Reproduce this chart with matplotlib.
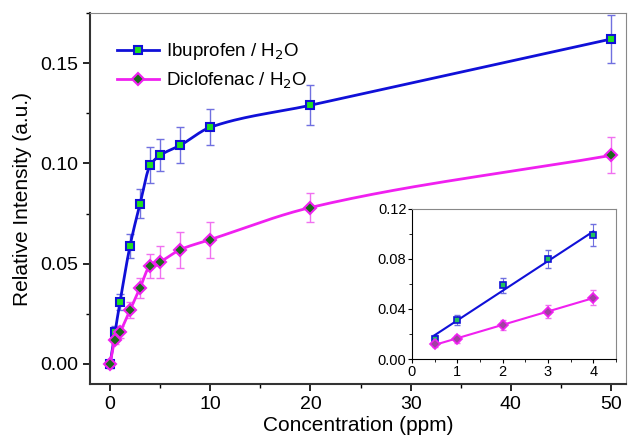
import numpy as np
import matplotlib
matplotlib.use("Agg")
import matplotlib.pyplot as plt
from matplotlib.ticker import MultipleLocator

plt.rcParams['font.family'] = ['Liberation Sans', 'DejaVu Sans']

conc = [0, 0.5, 1, 2, 3, 4, 5, 7, 10, 20, 50]
ibu = [0.0, 0.016, 0.031, 0.059, 0.080, 0.099, 0.104, 0.109, 0.118, 0.129, 0.162]
ibu_err = [0.002, 0.003, 0.004, 0.006, 0.007, 0.009, 0.008, 0.009, 0.009, 0.010, 0.012]
dic = [0.0, 0.012, 0.016, 0.027, 0.038, 0.049, 0.051, 0.057, 0.062, 0.078, 0.104]
dic_err = [0.002, 0.002, 0.003, 0.004, 0.005, 0.006, 0.008, 0.009, 0.009, 0.007, 0.009]

inset_x = conc[1:6]
inset_ibu = ibu[1:6]
inset_ibu_err = ibu_err[1:6]
inset_dic = dic[1:6]
inset_dic_err = dic_err[1:6]

BLUE = '#1010d8'
MAG = '#f020f0'
ERR_B = '#7070e0'
ERR_M = '#f070f0'


def pchip_line(x, y, n=30):
    """Monotone cubic (Fritsch-Carlson) curve through the points, for drawing."""
    x = np.asarray(x, float)
    y = np.asarray(y, float)
    h = np.diff(x)
    d = np.diff(y) / h
    m = np.zeros_like(x)
    m[0], m[-1] = d[0], d[-1]
    for k in range(1, len(x) - 1):
        if d[k - 1] * d[k] <= 0:
            m[k] = 0
        else:
            w1 = 2 * h[k] + h[k - 1]
            w2 = h[k] + 2 * h[k - 1]
            m[k] = (w1 + w2) / (w1 / d[k - 1] + w2 / d[k])
    xs, ys = [], []
    for k in range(len(x) - 1):
        t = np.linspace(0, 1, n)
        h00 = 2 * t**3 - 3 * t**2 + 1
        h10 = t**3 - 2 * t**2 + t
        h01 = -2 * t**3 + 3 * t**2
        h11 = t**3 - t**2
        xs.append(x[k] + t * h[k])
        ys.append(h00 * y[k] + h10 * h[k] * m[k] + h01 * y[k + 1] + h11 * h[k] * m[k + 1])
    return np.concatenate(xs), np.concatenate(ys)


fig = plt.figure(figsize=(6.32, 4.36), dpi=100)
ax = fig.add_axes([90/632, 1-384/436, (626-90)/632, (384-13)/436])

ax.errorbar(conc, ibu, yerr=ibu_err, fmt='none', ecolor=ERR_B, elinewidth=1, capsize=3, zorder=2)
ax.errorbar(conc, dic, yerr=dic_err, fmt='none', ecolor=ERR_M, elinewidth=1, capsize=3, zorder=2)
xs, ys = pchip_line(conc, ibu)
ax.plot(xs, ys, '-', color=BLUE, lw=2, zorder=3)
xs, ys = pchip_line(conc, dic)
ax.plot(xs, ys, '-', color=MAG, lw=2, zorder=3)
ax.plot(conc, ibu, 'none', marker='s', ms=6, mfc='#20e020', mec=BLUE, mew=1.5, zorder=4)
ax.plot(conc, dic, 'none', marker='D', ms=6, mfc='#1a6a1a', mec=MAG, mew=1.5, zorder=4)
ax.plot([], [], '-', color=BLUE, lw=2, marker='s', ms=6, mfc='#20e020', mec=BLUE, mew=1.5,
        label='Ibuprofen / H$_2$O')
ax.plot([], [], '-', color=MAG, lw=2, marker='D', ms=6, mfc='#1a6a1a', mec=MAG, mew=1.5,
        label='Diclofenac / H$_2$O')

ax.set_xlim(-2, 51.5)
ax.set_ylim(-0.01, 0.175)
ax.xaxis.set_major_locator(MultipleLocator(10))
ax.xaxis.set_minor_locator(MultipleLocator(5))
ax.yaxis.set_major_locator(MultipleLocator(0.05))
ax.yaxis.set_minor_locator(MultipleLocator(0.025))
ax.yaxis.set_major_formatter(matplotlib.ticker.FormatStrFormatter('%.2f'))
ax.tick_params(which='both', direction='out', top=False, right=False, labelsize=14)
ax.tick_params(which='major', length=5, width=1.2)
ax.tick_params(which='minor', length=3, width=1)
for s in ['top', 'right']:
    ax.spines[s].set_color('#888888')
for s in ['left', 'bottom']:
    ax.spines[s].set_linewidth(1.5)
    ax.spines[s].set_color('#333333')
ax.set_xlabel('Concentration (ppm)', fontsize=15, labelpad=2)
ax.set_ylabel('Relative Intensity (a.u.)', fontsize=15, labelpad=6)
ax.legend(loc='upper left', bbox_to_anchor=(0.037, 0.944), frameon=False, fontsize=13.5,
          handlelength=2.2, borderaxespad=0.0, labelspacing=0.45, handletextpad=0.4)

ins = fig.add_axes([412/632, 1-359/436, (616-412)/632, (359-209)/436])
ins.errorbar(inset_x, inset_ibu, yerr=inset_ibu_err, fmt='none', ecolor=ERR_B, elinewidth=0.8, capsize=2)
ins.errorbar(inset_x, inset_dic, yerr=inset_dic_err, fmt='none', ecolor=ERR_M, elinewidth=0.8, capsize=2)
pb = np.polyfit(inset_x, inset_ibu, 1)
pd_ = np.polyfit(inset_x, inset_dic, 1)
xf = np.array([inset_x[0], inset_x[-1]])
ins.plot(xf, np.polyval(pb, xf), color=BLUE, lw=1.5, zorder=3)
ins.plot(xf, np.polyval(pd_, xf), color=MAG, lw=1.5, zorder=3)
ins.plot(inset_x, inset_ibu, 's', ms=5, mfc='#20c060', mec=BLUE, mew=1.2, zorder=4)
ins.plot(inset_x, inset_dic, 'D', ms=5, mfc='#a040a0', mec=MAG, mew=1.2, zorder=4)
ins.set_xlim(0, 4.5)
ins.set_ylim(0, 0.12)
ins.xaxis.set_major_locator(MultipleLocator(1))
ins.xaxis.set_minor_locator(MultipleLocator(0.5))
ins.yaxis.set_major_locator(MultipleLocator(0.04))
ins.yaxis.set_minor_locator(MultipleLocator(0.02))
ins.yaxis.set_major_formatter(matplotlib.ticker.FormatStrFormatter('%.2f'))
ins.tick_params(which='both', direction='out', top=False, right=False, labelsize=10.5, pad=1)
ins.tick_params(which='major', length=3)
ins.tick_params(which='minor', length=2)
for s in ['top', 'right']:
    ins.spines[s].set_color('#888888')

fig.savefig('out.png', dpi=100)
